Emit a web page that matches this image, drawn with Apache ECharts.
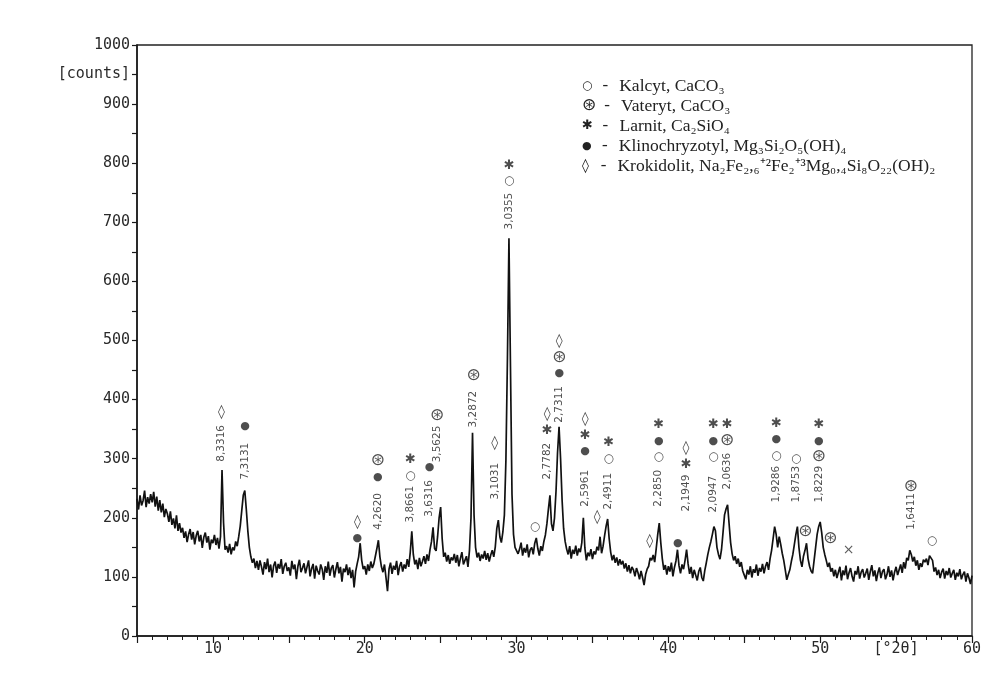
<!DOCTYPE html>
<html><head><meta charset="utf-8">
<script src="https://cdn.jsdelivr.net/npm/echarts@6/dist/echarts.min.js"></script>
<style>html,body{margin:0;padding:0;background:#fff}#c{width:994px;height:677px}</style>
</head><body><div id="c"></div>
<script>
// 2θ grid of the scan
const twoThetaStart = 5.0;
const twoThetaStep = 0.1;
// counts, one row per degree (x.0 ... x.9)
const counts = [
232,214,238,221,229,246,218,235,224,240,
226,244,219,236,212,230,209,224,201,215,
207,193,211,188,199,182,204,178,191,175,
183,166,177,159,172,181,163,176,155,170,
178,160,171,149,167,175,158,169,146,163,
157,171,154,166,148,168,281,192,146,152,
141,156,138,150,145,160,152,168,186,212,
238,246,214,178,150,134,124,131,115,127,
112,128,117,104,125,113,131,108,121,99,
119,126,107,122,114,130,105,118,124,110,
116,102,127,113,121,96,118,129,108,115,
123,106,117,128,101,114,122,97,119,110,
104,121,113,95,118,107,126,102,115,120,
99,113,125,106,117,92,114,108,121,103,
116,98,112,82,109,122,134,157,128,113,
118,104,121,110,126,115,122,135,148,162,
134,117,108,121,99,76,113,124,105,119,
112,127,103,118,125,109,121,114,130,117,
142,177,138,121,129,113,132,118,126,135,
122,138,127,146,160,184,148,144,168,200,
218,165,134,141,126,137,122,133,128,139,
124,137,118,131,142,121,128,135,117,145,
200,344,205,150,133,141,127,138,131,144,
129,140,126,137,145,134,151,182,196,168,
158,176,205,298,470,673,455,240,172,150,
152,139,147,158,136,149,141,155,133,146,
150,138,157,166,148,136,152,144,160,171,
190,215,238,190,178,200,245,310,354,300,
230,182,160,147,138,152,131,146,139,153,
136,148,142,158,200,149,128,141,135,147,
130,143,138,151,145,168,140,152,170,186,
198,165,142,128,137,124,133,119,130,121,
127,114,123,109,120,106,117,112,101,115,
107,96,110,99,86,104,113,118,132,128,
137,125,148,172,191,158,131,112,120,104,
118,109,124,101,116,127,146,119,106,121,
113,128,146,122,105,117,98,112,103,94,
109,116,99,93,111,124,138,150,160,172,
185,178,150,138,130,146,175,205,215,222,
190,158,139,128,135,122,131,117,125,110,
103,96,112,104,118,99,113,107,121,102,
115,109,122,106,118,125,112,131,145,165,
185,172,150,168,155,140,128,112,95,104,
112,126,138,155,172,185,150,128,117,135,
145,157,131,118,110,106,128,150,172,185,
193,175,150,138,128,117,124,109,115,101,
112,98,108,117,94,111,103,119,96,107,
115,101,92,110,104,118,97,108,113,99,
106,114,95,109,120,101,111,93,107,116,
98,109,113,96,104,118,100,111,94,108,
117,103,112,121,107,125,114,132,128,145,
138,126,134,119,128,112,123,117,129,125,
131,120,136,138,128,109,116,103,112,98,
108,114,97,110,103,115,99,106,112,95,
107,101,113,96,104,109,92,106,98,88,
102
];

// d-spacing labels (2θ position, text, counts level of the text's lower end)
const dLabelX    = [10.6, 12.15, 20.9, 23.05, 24.3, 24.8, 27.2, 28.6, 29.55, 32.05, 32.85, 34.55, 36.1, 39.4, 41.2, 43.0, 43.9, 47.15, 48.45, 49.95, 56.0];
const dLabelText = ['8,3316','7,3131','4,2620','3,8661','3,6316','3,5625','3,2872','3,1031','3,0355','2,7782','2,7311','2,5961','2,4911','2,2850','2,1949','2,0947','2,0636','1,9286','1,8753','1,8229','1,6411'];
const dLabelY    = [294, 264, 179, 191, 201, 293, 352, 230, 687, 264, 360, 218, 213, 218, 210, 208, 247, 225, 225, 225, 179];

// phase symbols (2θ position, stacked symbols top→bottom, counts level of the stack's lower end)
const symX    = [10.6, 12.15, 19.55, 20.9, 23.05, 24.3, 24.8, 27.2, 28.6, 29.55, 31.25, 32.05, 32.85, 34.55, 35.35, 36.1, 38.8, 39.4, 40.65, 41.2, 43.0, 43.9, 47.15, 48.45, 49.05, 49.95, 50.7, 51.9, 56.0, 57.4];
const symText = ['◊','●','◊\n●','⊛\n●','✱\n○','●','⊛','⊛','◊','✱\n○','○','◊\n✱','◊\n⊛\n●','◊\n✱\n●','◊','✱\n○','◊','✱\n●\n○','●','◊\n✱','✱\n●\n○','✱\n⊛','✱\n●\n○','○','⊛','✱\n●\n⊛','⊛','×','⊛','○'];
const symY    = [364, 340, 151, 255, 257, 272, 359, 426, 311, 755, 171, 333, 430, 298, 186, 286, 146, 289, 142, 276, 289, 316, 291, 286, 162, 289, 151, 130, 239, 146];

// legend entries
const legendSymbols = ['○','⊛','✱','●','◊'];
const legendNames = [
  'Kalcyt, CaCO₃',
  'Vateryt, CaCO₃',
  'Larnit, Ca₂SiO₄',
  'Klinochryzotyl, Mg₃Si₂O₅(OH)₄',
  'Krokidolit, Na₂Fe₂,₆⁺²Fe₂⁺³Mg₀,₄Si₈O₂₂(OH)₂'
];

const pts = counts.map((c, i) => [+(twoThetaStart + i * twoThetaStep).toFixed(1), c]);

const chart = echarts.init(document.getElementById('c'));
const axisFont = {fontFamily: 'DejaVu Sans Mono', fontSize: 15, color: '#2a2a2a'};

// one rich style per phase symbol
const symKey = {'○': 'o', '⊛': 'v', '✱': 'l', '●': 'k', '◊': 'd', '×': 'x'};
const symStyles = {
  o: {fontFamily: 'DejaVu Sans', fontSize: 12, color: '#222', lineHeight: 16},
  v: {fontFamily: 'DejaVu Sans', fontSize: 17, color: '#222', lineHeight: 16},
  l: {fontFamily: 'DejaVu Sans', fontSize: 13, color: '#222', lineHeight: 16},
  k: {fontFamily: 'DejaVu Sans', fontSize: 11, color: '#222', lineHeight: 16},
  d: {fontFamily: 'DejaVu Sans', fontSize: 14, color: '#222', lineHeight: 16},
  x: {fontFamily: 'DejaVu Sans', fontSize: 14, color: '#333', lineHeight: 16}
};
const richSymbols = s => s.split('\n').map(c => '{' + symKey[c] + '|' + c + '}').join('\n');

chart.setOption({
  animation: false,
  backgroundColor: '#ffffff',
  grid: {left: 137, right: 22, top: 45, bottom: 41, show: true, borderColor: '#222', borderWidth: 1.3, backgroundColor: 'transparent'},
  xAxis: {
    type: 'value', min: 5, max: 60, interval: 5,
    axisLine: {show: true, onZero: false, lineStyle: {color: '#1a1a1a', width: 1.6}},
    axisTick: {show: true, length: 7, lineStyle: {color: '#1a1a1a', width: 1.2}},
    minorTick: {show: true, splitNumber: 5, length: 4, lineStyle: {color: '#1a1a1a', width: 1}},
    splitLine: {show: false},
    axisLabel: Object.assign({margin: 6, formatter: v => (v % 10 === 0 ? String(v) : (v === 55 ? '[°2θ]' : '')), showMinLabel: true, showMaxLabel: true}, axisFont)
  },
  yAxis: {
    type: 'value', min: 0, max: 1000, interval: 50,
    axisLine: {show: true, lineStyle: {color: '#1a1a1a', width: 1.6}},
    axisTick: {show: true, length: 5, lineStyle: {color: '#1a1a1a', width: 1.2}},
    splitLine: {show: false},
    axisLabel: Object.assign({margin: 7, formatter: v => (v % 100 === 0 ? String(v) : (v === 950 ? '[counts]' : ''))}, axisFont)
  },
  graphic: legendNames.map((n, i) => ({
    type: 'text', left: 582, top: 77 + i * 20,
    style: {
      text: '{s' + symKey[legendSymbols[i]] + '|' + legendSymbols[i] + '}{d|-}{t|' + n + '}',
      rich: {
        so: {fontFamily: 'DejaVu Sans', fontSize: 12, fill: '#222', width: 16, align: 'center'},
        sv: {fontFamily: 'DejaVu Sans', fontSize: 17, fill: '#222', width: 16, align: 'center'},
        sl: {fontFamily: 'DejaVu Sans', fontSize: 13, fill: '#222', width: 16, align: 'center'},
        sk: {fontFamily: 'DejaVu Sans', fontSize: 11, fill: '#222', width: 16, align: 'center'},
        sd: {fontFamily: 'DejaVu Sans', fontSize: 14, fill: '#222', width: 16, align: 'center'},
        d: {fontFamily: 'Liberation Serif', fontSize: 17, fill: '#222', width: 20, align: 'center'},
        t: {fontFamily: 'Liberation Serif', fontSize: 17.5, fill: '#222', padding: [0, 0, 0, 4]}
      }
    }
  })),
  series: [
    {
      type: 'line', data: pts, showSymbol: false, silent: true, z: 2,
      lineStyle: {width: 1.7, color: '#111111'}
    },
    {
      type: 'scatter', silent: true, z: 3,
      data: dLabelX.map((x, i) => [x, dLabelY[i]]),
      symbolSize: 1, itemStyle: {color: 'transparent'},
      label: {
        show: true, formatter: p => dLabelText[p.dataIndex], rotate: 90,
        position: [0, 0], align: 'left', verticalAlign: 'middle',
        fontFamily: 'DejaVu Sans', fontSize: 10.5, color: '#1e1e1e'
      }
    },
    {
      type: 'scatter', silent: true, z: 3,
      data: symX.map((x, i) => [x, symY[i]]),
      symbolSize: 1, itemStyle: {color: 'transparent'},
      label: {
        show: true, formatter: p => richSymbols(symText[p.dataIndex]),
        position: [0, 0], align: 'center', verticalAlign: 'bottom',
        lineHeight: 16, rich: symStyles
      }
    }
  ]
});
</script></body></html>
